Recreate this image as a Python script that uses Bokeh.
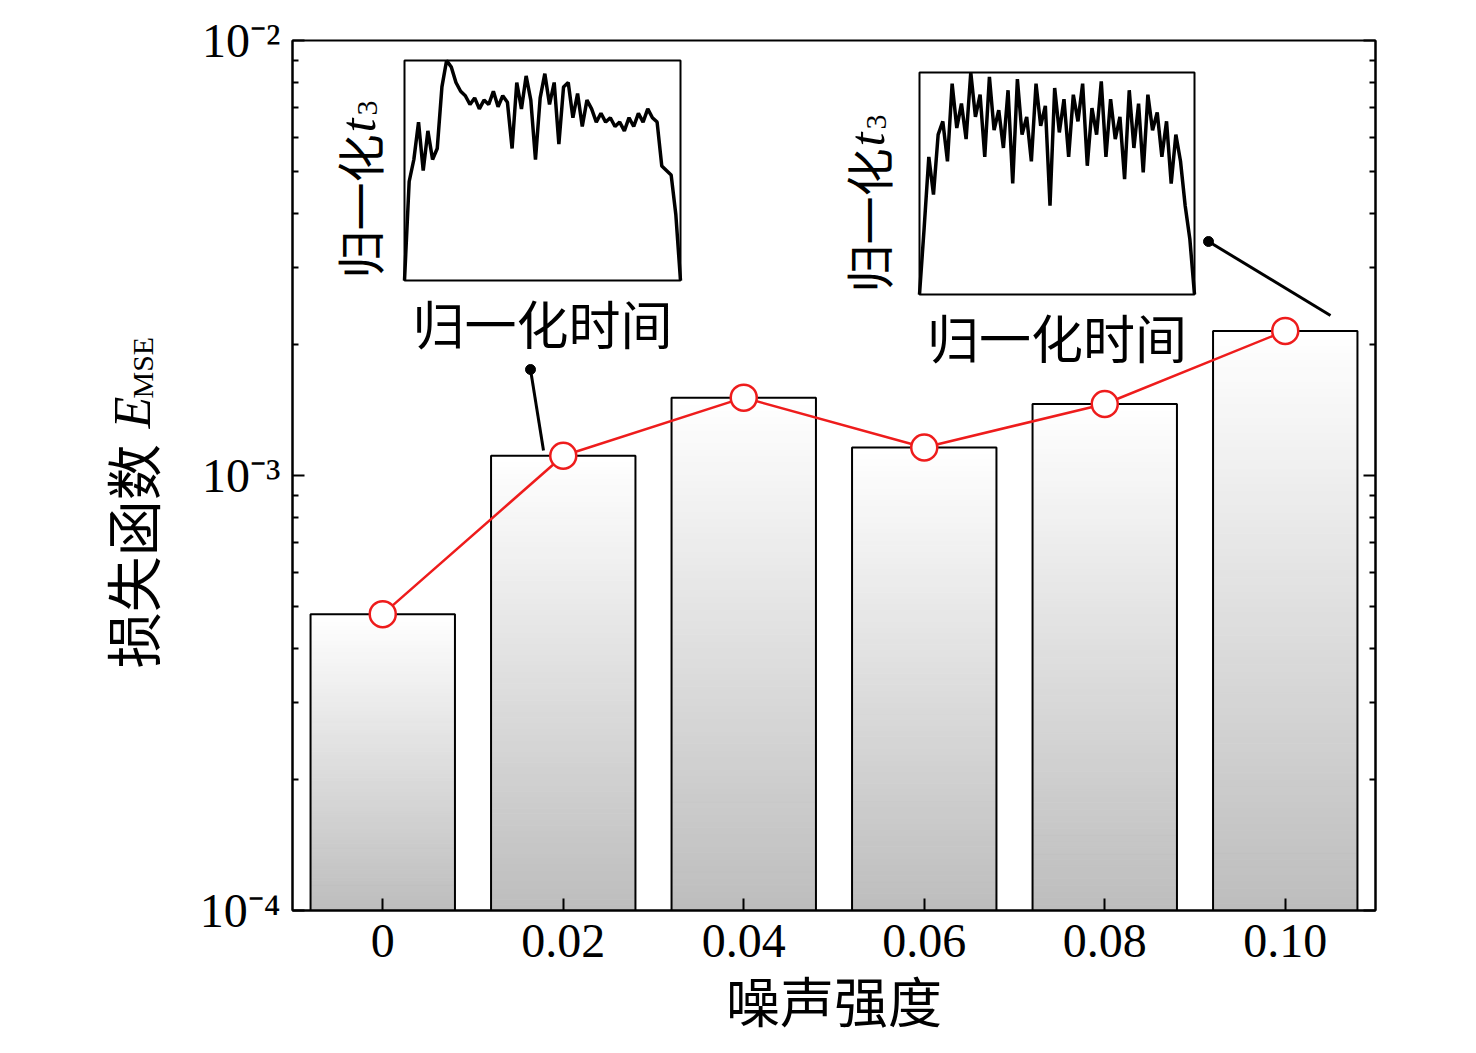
import numpy as np
from bokeh.plotting import figure
from bokeh.layouts import row
from bokeh.models import Range1d, LogAxis, FixedTicker, Label, LinearScale
from bokeh.embed import file_html
from bokeh.resources import INLINE

categories = ["0", "0.02", "0.04", "0.06", "0.08", "0.10"]
mse = [4.8e-4, 1.11e-3, 1.51e-3, 1.16e-3, 1.46e-3, 2.15e-3]

inset1 = [0.0, 0.45, 0.55, 0.72, 0.5, 0.68, 0.55, 0.6, 0.88, 1.0, 0.97, 0.9, 0.86, 0.84, 0.8, 0.83,
          0.78, 0.82, 0.8, 0.86, 0.79, 0.84, 0.81, 0.6, 0.9, 0.78, 0.93, 0.82, 0.55, 0.83, 0.94, 0.8,
          0.9, 0.62, 0.88, 0.9, 0.74, 0.85, 0.7, 0.82, 0.78, 0.72, 0.76, 0.72, 0.74, 0.7, 0.72, 0.68,
          0.74, 0.7, 0.76, 0.72, 0.78, 0.74, 0.72, 0.52, 0.5, 0.48, 0.3, 0.0]
inset2 = [0.0, 0.3, 0.62, 0.45, 0.72, 0.78, 0.6, 0.95, 0.75, 0.86, 0.7, 1.0, 0.8, 0.9, 0.62, 0.98,
          0.74, 0.83, 0.66, 0.92, 0.5, 0.97, 0.72, 0.8, 0.6, 0.95, 0.76, 0.85, 0.4, 0.93, 0.73, 0.88,
          0.62, 0.9, 0.78, 0.95, 0.58, 0.84, 0.72, 0.96, 0.62, 0.88, 0.7, 0.8, 0.52, 0.92, 0.66, 0.86,
          0.55, 0.9, 0.74, 0.82, 0.62, 0.78, 0.5, 0.72, 0.6, 0.4, 0.25, 0.0]

serif = "Liberation Serif"
cjk = "Noto Sans CJK SC"
H = 1045
LW = 188

q = figure(width=LW, height=H, x_range=Range1d(8, 8 + LW), y_range=Range1d(8 + H, 8),
           output_backend="svg", toolbar_location=None, min_border=0)
q.axis.visible = False
q.grid.visible = False
q.outline_line_color = None


def qlab(x, y, t, size, font, style="normal"):
    q.add_layout(Label(x=x, y=y, text=t, angle=np.pi / 2, text_font=font, text_font_size=size,
                       text_font_style=style, text_align="left", text_baseline="middle",
                       text_color="black"))


qlab(138, 762, "损失函数", "56px", cjk)
qlab(140, 474, "E", "52px", serif, "italic")
qlab(150, 438, "MSE", "30px", serif)

p = figure(width=1468 - LW, height=H, y_axis_type="log", x_range=Range1d(-0.5, 5.5),
           y_range=Range1d(1e-4, 1e-2), output_backend="svg", toolbar_location=None,
           min_border_left=292 - LW, min_border_right=93, min_border_top=40, min_border_bottom=135)
p.extra_x_ranges = {"px": Range1d(292, 1375)}
p.extra_y_ranges = {"py": Range1d(910, 40)}
p.extra_x_scales = {"px": LinearScale()}
p.extra_y_scales = {"py": LinearScale()}
p.grid.visible = False
p.outline_line_color = "black"
p.outline_line_width = 2
p.background_fill_color = "white"

N = 80
L, R, B, T, C = [], [], [], [], []
for i, v in enumerate(mse):
    edges = np.logspace(-4, np.log10(v), N + 1)
    for k in range(N):
        f = (k + 0.5) / N
        g = int(round(0xbd + (0xff - 0xbd) * f))
        L.append(i - 0.4); R.append(i + 0.4); B.append(edges[k]); T.append(edges[k + 1])
        C.append("#%02x%02x%02x" % (g, g, g))
p.quad(left=L, right=R, bottom=B, top=T, fill_color=C, line_color=C, line_width=1)
xs = list(range(len(mse)))
p.quad(left=[x - 0.4 for x in xs], right=[x + 0.4 for x in xs], bottom=[1e-4] * 6, top=mse,
       fill_color=None, line_color="black", line_width=2)
p.line(xs, mse, line_color="#ee1c1c", line_width=2.5)
p.scatter(xs, mse, size=26, fill_color="white", line_color="#ee1c1c", line_width=2.5)

p.xaxis.ticker = FixedTicker(ticks=xs)
p.xaxis.major_label_overrides = {i: c for i, c in enumerate(categories)}
p.yaxis.ticker = FixedTicker(ticks=[1e-4, 1e-3, 1e-2],
                             minor_ticks=[m * 10.0 ** e for e in (-4, -3) for m in range(2, 10)])
p.yaxis.major_label_overrides = {1e-4: "10⁻⁴", 1e-3: "10⁻³", 1e-2: "10⁻²"}
ra = LogAxis(ticker=p.yaxis.ticker, major_label_text_color=None)
p.add_layout(ra, "right")
for ax in [p.xaxis[0], p.yaxis[0], ra]:
    ax.major_tick_in = 12
    ax.major_tick_out = 0
    ax.minor_tick_in = 6
    ax.minor_tick_out = 0
    ax.axis_line_width = 2
    ax.major_tick_line_width = 2
    ax.minor_tick_line_width = 2
    ax.major_label_text_font = serif
    ax.major_label_text_font_size = "48px"
p.xaxis.major_label_text_color = "black"
p.yaxis[0].major_label_text_color = "black"
ra.major_label_text_color = None
p.xaxis.minor_tick_line_color = None
p.xaxis.major_label_standoff = 14
p.yaxis.major_label_standoff = 12

p.xaxis.axis_label = "噪声强度"
p.xaxis.axis_label_text_font = cjk
p.xaxis.axis_label_text_font_size = "54px"
p.xaxis.axis_label_text_font_style = "normal"
p.xaxis.axis_label_text_color = "black"
p.xaxis.axis_label_standoff = 0


def lab(x, y, t, size="50px", font=cjk, angle=0, style="normal", align="left", base="middle"):
    p.add_layout(Label(x=x, y=y, text=t, x_range_name="px", y_range_name="py", angle=angle,
                       text_font=font, text_font_size=size, text_font_style=style,
                       text_align=align, text_baseline=base, text_color="black"))


def inset(x0, x1, y0, y1, data, lx):
    n = len(data)
    ix = [x0 + (x1 - x0) * k / (n - 1) for k in range(n)]
    iy = [y1 - (y1 - y0) * d for d in data]
    p.line(ix, iy, x_range_name="px", y_range_name="py", line_color="black", line_width=3.5)
    p.quad(left=[x0], right=[x1], top=[y0], bottom=[y1], x_range_name="px", y_range_name="py",
           fill_color=None, line_color="black", line_width=2)
    lab((x0 + x1) / 2, y1 + 42, "归一化时间", size="52px", align="center")
    lab(lx, y1 - 2, "归一化", size="48px", angle=np.pi / 2)
    lab(lx, y1 - 148, "t", size="50px", font=serif, angle=np.pi / 2, style="italic")
    lab(lx + 10, y1 - 165, "3", size="30px", font=serif, angle=np.pi / 2)


inset(404, 680, 60, 280, inset1, 357)
inset(919, 1194, 72, 294, inset2, 866)

p.line([530, 543], [369, 450], x_range_name="px", y_range_name="py", line_color="black", line_width=3)
p.scatter([530], [369], x_range_name="px", y_range_name="py", size=10, color="black")
p.line([1208, 1330], [241, 315], x_range_name="px", y_range_name="py", line_color="black", line_width=3)
p.scatter([1208], [241], x_range_name="px", y_range_name="py", size=10, color="black")

layout = row(q, p, spacing=0)
open("out.html", "w").write(file_html(layout, INLINE))
